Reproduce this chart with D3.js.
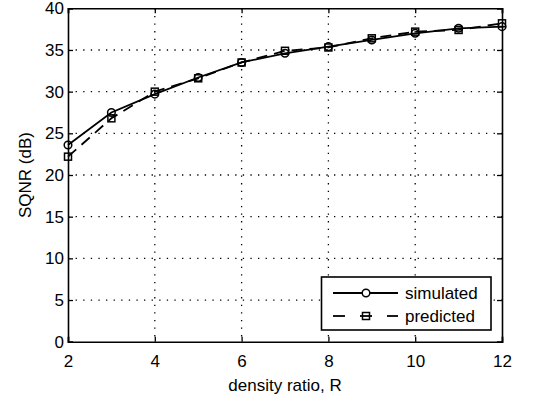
<!DOCTYPE html>
<html><head><meta charset="utf-8">
<script src="https://cdn.jsdelivr.net/npm/d3@7"></script>
<style>body{margin:0;background:#fff}svg{display:block}</style>
</head><body>
<script>
const R = [2,3,4,5,6,7,8,9,10,11,12];
const simulated = [23.6,27.5,29.7,31.7,33.5,34.6,35.4,36.2,37.0,37.6,37.8];
const predicted = [22.2,26.8,30.0,31.6,33.5,34.9,35.3,36.4,37.2,37.4,38.2];
const xTicks = [2,4,6,8,10,12];
const yTicks = [0,5,10,15,20,25,30,35,40];

const W=549,H=399, L=68, Rr=502, T=8.3, B=341.7;
const svg = d3.select("body").append("svg").attr("width",W).attr("height",H);
const x = d3.scaleLinear().domain([2,12]).range([L,Rr]);
const y = d3.scaleLinear().domain([0,40]).range([B,T]);
const font = "Liberation Sans, Arial, sans-serif";

// grid
const g = svg.append("g");
xTicks.slice(1,-1).forEach(v=>g.append("line").attr("x1",x(v)).attr("x2",x(v)).attr("y1",T).attr("y2",B)
  .attr("stroke","#000").attr("stroke-width",1.3).attr("stroke-dasharray","1.3,6.3"));
yTicks.slice(1,-1).forEach(v=>g.append("line").attr("x1",L).attr("x2",Rr).attr("y1",y(v)).attr("y2",y(v))
  .attr("stroke","#000").attr("stroke-width",1.3).attr("stroke-dasharray","1.3,6.3"));

// axes
const ax = svg.append("g").attr("transform",`translate(0,${B})`).call(d3.axisBottom(x).tickValues(xTicks).tickSize(-5).tickPadding(13).tickFormat(d3.format("d")));
const ay = svg.append("g").attr("transform",`translate(${L},0)`).call(d3.axisLeft(y).tickValues(yTicks).tickSize(-5).tickPadding(4).tickFormat(d3.format("d")));
const axT = svg.append("g").attr("transform",`translate(0,${T})`).call(d3.axisTop(x).tickValues(xTicks).tickSize(-5).tickFormat(""));
const ayR = svg.append("g").attr("transform",`translate(${Rr},0)`).call(d3.axisRight(y).tickValues(yTicks).tickSize(-5).tickFormat(""));
[ax,ay,axT,ayR].forEach(a=>{
  a.selectAll("path").attr("stroke","#000").attr("stroke-width",1.6);
  a.selectAll("line").attr("stroke","#000").attr("stroke-width",1.3);
  a.selectAll("text").attr("font-family",font).attr("font-size",17).attr("fill","#000");
});

// lines
const line = d3.line().x(d=>x(d[0])).y(d=>y(d[1]));
const simD = R.map((r,i)=>[r,simulated[i]]);
const preD = R.map((r,i)=>[r,predicted[i]]);
svg.append("path").datum(preD).attr("d",line).attr("fill","none").attr("stroke","#000").attr("stroke-width",1.8).attr("stroke-dasharray","11,7");
svg.append("path").datum(simD).attr("d",line).attr("fill","none").attr("stroke","#000").attr("stroke-width",1.8);
svg.append("g").selectAll("rect").data(preD).join("rect")
  .attr("x",d=>x(d[0])-3.5).attr("y",d=>y(d[1])-3.5).attr("width",7).attr("height",7)
  .attr("fill","none").attr("stroke","#000").attr("stroke-width",1.5);
svg.append("g").selectAll("circle").data(simD).join("circle")
  .attr("cx",d=>x(d[0])).attr("cy",d=>y(d[1])).attr("r",3.8)
  .attr("fill","none").attr("stroke","#000").attr("stroke-width",1.5);

// labels
svg.append("text").attr("x",(L+Rr)/2).attr("y",391).attr("text-anchor","middle")
  .attr("font-family",font).attr("font-size",17).text("density ratio, R");
svg.append("text").attr("transform",`translate(31,${(T+B)/2}) rotate(-90)`).attr("text-anchor","middle")
  .attr("font-family",font).attr("font-size",17).text("SQNR (dB)");

// legend
const lg = svg.append("g");
lg.append("rect").attr("x",321.5).attr("y",277).attr("width",169.5).attr("height",53)
  .attr("fill","#fff").attr("stroke","#000").attr("stroke-width",1.6);
lg.append("line").attr("x1",333).attr("x2",398).attr("y1",293).attr("y2",293).attr("stroke","#000").attr("stroke-width",1.8);
lg.append("circle").attr("cx",366).attr("cy",293).attr("r",3.8).attr("fill","#fff").attr("stroke","#000").attr("stroke-width",1.5);
[[333,345],[360,372],[387,398]].forEach(s=>lg.append("line").attr("x1",s[0]).attr("x2",s[1]).attr("y1",316).attr("y2",316).attr("stroke","#000").attr("stroke-width",1.8));
lg.append("rect").attr("x",362.5).attr("y",312.5).attr("width",7).attr("height",7).attr("fill","none").attr("stroke","#000").attr("stroke-width",1.5);
lg.append("text").attr("x",405).attr("y",299).attr("font-family",font).attr("font-size",17).text("simulated");
lg.append("text").attr("x",405).attr("y",322).attr("font-family",font).attr("font-size",17).text("predicted");
</script>
</body></html>
